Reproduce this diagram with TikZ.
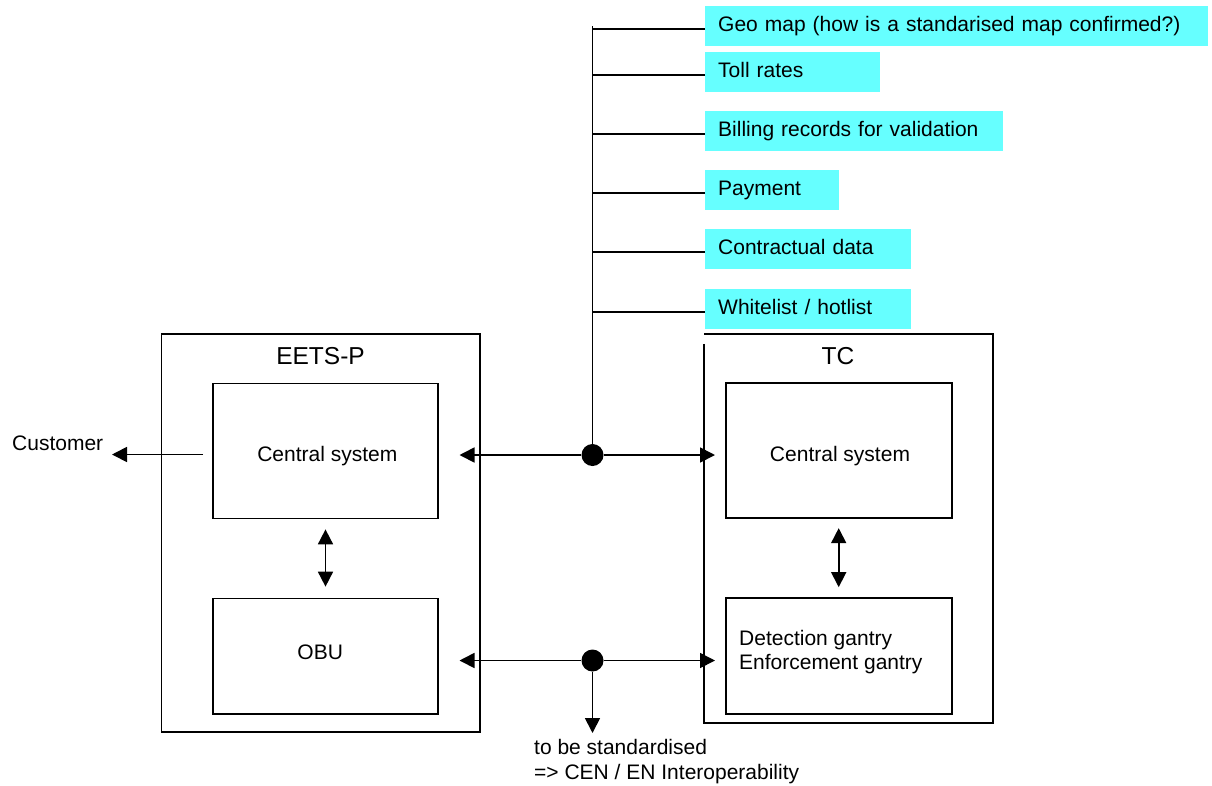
\documentclass[tikz,border=0pt]{standalone}
\usepackage{fontspec}
\setmainfont{Liberation Sans}
\usetikzlibrary{arrows.meta}
\definecolor{datacyan}{RGB}{102,255,255}

\begin{document}
\begin{tikzpicture}[x=1pt, y=-1pt,
        conn/.style={line width=1.7pt},
        tip/.style={conn, -{Triangle[length=15pt,width=15pt]}},
        dbl/.style={conn, {Triangle[length=15pt,width=15pt]}-{Triangle[length=15pt,width=15pt]}},
        sysbox/.style={draw, line width=1.7pt, inner sep=0pt},
        txt/.style={font=\fontsize{21}{24}\selectfont, inner sep=0pt, anchor=base},
        title/.style={font=\fontsize{24.5}{28}\selectfont, inner sep=0pt, anchor=base},
        databox/.style={fill=datacyan, anchor=west, inner xsep=13pt, inner ysep=0pt, minimum height=40pt,
            text width=#1, align=left, text height=15pt, text depth=4.5pt, font=\fontsize{21}{24}\selectfont},
        junction/.style={circle, fill, inner sep=0pt, minimum size=22pt}]
        \useasboundingbox (0,0) rectangle (1212,785);

        % EETS-P
        \node[sysbox, minimum width=318.5pt, minimum height=398pt] (eets) at (320.75, 533) {};
        \node[title] (eetsname) at (320.5, 364.7) {EETS-P};
        \node[sysbox, minimum width=225.6pt, minimum height=135pt] (eetsCS) at (325.5, 451) {};
        \node[txt] (eetsCStxt) at (327.3, 461.3) {Central system};
        \node[sysbox, minimum width=225.6pt, minimum height=115.6pt] (obu) at (325.5, 656.3) {};
        \node[txt] (obutxt) at (320.2, 659.2) {OBU};

        % TC
        \node[minimum width=288pt, minimum height=389pt, inner sep=0pt] (tc) at (848.5, 528.5) {};
        \draw[conn] ([yshift=-10pt]tc.north west) -- (tc.south west) -- (tc.south east) -- (tc.north east) -- (tc.north west);
        \node[title] (tcname) at (838, 364.7) {TC};
        \node[sysbox, minimum width=226pt, minimum height=135pt] (tcCS) at (838.7, 450.8) {};
        \node[txt] (tcCStxt) at (840, 461.3) {Central system};
        \node[sysbox, minimum width=226pt, minimum height=116pt] (gantry) at (838.7, 656) {};
        \node[txt, anchor=base west] (gantry1) at (739, 645.5) {Detection gantry};
        \node[txt, anchor=base west] (gantry2) at (739, 669.5) {Enforcement gantry};

        % Data exchanged
        \node[databox=477pt] (geo) at (705, 26) {Geo map (how is a standarised map confirmed?)};
        \node[databox=149pt] (toll) at (705, 72) {Toll rates};
        \node[databox=272pt] (bill) at (705, 131) {Billing records for validation};
        \node[databox=108pt] (pay) at (705, 190) {Payment};
        \node[databox=180pt] (contract) at (705, 249) {Contractual data};
        \node[databox=180pt] (white) at (705, 309) {Whitelist / hotlist};

        % Junctions
        \node[junction] (topdot) at (592.5, 455) {};
        \node[junction] (botdot) at (592.5, 660.5) {};
        \coordinate (trunktop) at (592.5, 26);
        \coordinate (csL) at (459.5, 455);
        \coordinate (csR) at (715, 455);
        \coordinate (obuL) at (459.5, 660.5);
        \coordinate (gantryR) at (715, 660.5);
        \coordinate (stdtip) at (592.5, 733);
        \coordinate (custfrom) at (203, 454.5);
        \coordinate (custtip) at (112, 454.5);

        % Trunk and branches
        \draw[conn] (topdot) -- (trunktop);
        \foreach \b in {geo,toll,bill,pay,contract,white}
            \draw[conn] ([yshift=-3pt]\b.west) -- ([yshift=-3pt]\b.west -| topdot);

        % Interfaces
        \draw[tip] (topdot) -- (csL);
        \draw[tip] (topdot) -- (csR);
        \draw[tip] (botdot) -- (obuL);
        \draw[tip] (botdot) -- (gantryR);
        \draw[tip] (botdot) -- (stdtip);
        \draw[dbl, shorten <=10pt, shorten >=11pt] (eetsCS) -- (obu);
        \draw[dbl, shorten <=9pt, shorten >=10pt] (tcCS) -- (gantry);

        % Customer
        \node[txt, anchor=base west] (customer) at (12, 450.7) {Customer};
        \draw[tip] (custfrom) -- (custtip);

        % Standardisation note
        \node[txt, anchor=base west] (std1) at (534, 754) {to be standardised};
        \node[txt, anchor=base west] (std2) at (534, 779) {=> CEN / EN Interoperability};
\end{tikzpicture}
\end{document}
